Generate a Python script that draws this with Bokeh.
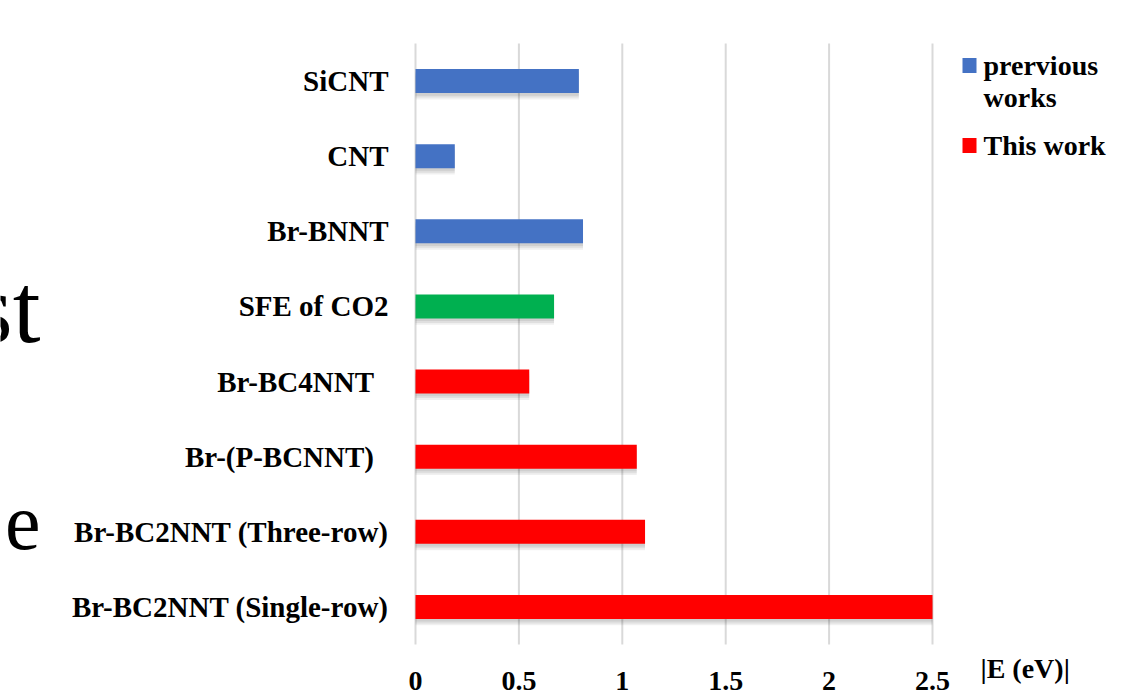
from bokeh.plotting import figure
from bokeh.models import ColumnDataSource, Range1d
from bokeh.core.properties import value
from bokeh.transform import dodge
from bokeh.embed import file_html
from bokeh.resources import INLINE

# Adsorption energies |E| (eV), listed top to bottom
materials = ["SiCNT", "CNT", "Br-BNNT", "SFE of CO2",
             "Br-BC4NNT\u00a0\u00a0", "Br-(P-BCNNT)\u00a0\u00a0",
             "Br-BC2NNT (Three-row)", "Br-BC2NNT (Single-row)"]
energies = [0.79, 0.19, 0.81, 0.67, 0.55, 1.07, 1.11, 2.50]
groups = ["previous", "previous", "previous", "sfe",
          "this", "this", "this", "this"]
x_ticks = [0, 0.5, 1, 1.5, 2, 2.5]
x_tick_labels = ["0", "0.5", "1", "1.5", "2", "2.5"]
axis_title = "|E (eV)|"
legend_lines = [("prervious", "previous"), ("works", None), ("This work", "this")]

colors = {"previous": "#4472C4", "sfe": "#00B050", "this": "#FF0000"}
FONT = value("Liberation Serif")

# canvas geometry: value axis 0..2.5 spans pixels 415..932,
# eight category rows of equal height between y=43 and y=644
W, H = 1130, 695
left_px, right_px, top_px, bottom_px = 415, 932, 43, 644
xmax = x_ticks[-1]
ppu = (right_px - left_px) / xmax
n = len(materials)
row = (bottom_px - top_px) / n

p = figure(width=W, height=H, output_backend="svg", toolbar_location=None,
           x_range=Range1d(-left_px / ppu, (W - left_px) / ppu),
           y_range=Range1d(-(H - bottom_px) / row, bottom_px / row),
           min_border=0)
p.axis.visible = False
p.grid.visible = False
p.outline_line_color = None
p.background_fill_color = "white"
p.border_fill_color = "white"

ypos = [n - i - 0.5 for i in range(n)]   # row centres, top row first

# vertical gridlines across the plotting area
p.segment(x0=x_ticks, y0=[0] * len(x_ticks), x1=x_ticks, y1=[n] * len(x_ticks),
          line_color="#d9d9d9", line_width=2)

# soft drop shadow beneath each bar
all_src = ColumnDataSource(dict(y=ypos, val=energies, mat=materials))
for off, a in [(-0.035, 0.07), (-0.06, 0.07), (-0.085, 0.06)]:
    p.hbar(y=dodge("y", off), right="val", left=0, height=0.32,
           source=all_src, fill_color="black", fill_alpha=a, line_color=None)

for g in ["previous", "sfe", "this"]:
    idx = [i for i, gg in enumerate(groups) if gg == g]
    src = ColumnDataSource(dict(y=[ypos[i] for i in idx],
                                val=[energies[i] for i in idx]))
    p.hbar(y="y", right="val", left=0, height=0.32, source=src,
           fill_color=colors[g], line_color=None)

# category labels
p.text(x=[-27 / ppu] * n, y=ypos, text=materials, text_font=FONT,
       text_font_style="bold", text_font_size="29px", text_color="black",
       text_align="right", text_baseline="middle")

# value-axis tick labels and title
p.text(x=x_ticks, y=[-36 / row] * len(x_ticks), text=x_tick_labels,
       text_font=FONT, text_font_style="bold", text_font_size="28px",
       text_color="black", text_align="center", text_baseline="middle")
p.text(x=[xmax + 48 / ppu], y=[-24 / row], text=[axis_title], text_font=FONT,
       text_font_style="bold", text_font_size="28px", text_color="black",
       text_align="left", text_baseline="middle")

# legend
leg_x = xmax + 37 / ppu
leg_text_x = xmax + 51 / ppu
anchors_px = [65, 97, 145]
for (txt, g), apx in zip(legend_lines, anchors_px):
    p.text(x=[leg_text_x], y=[(bottom_px - apx) / row], text=[txt], text_font=FONT,
           text_font_style="bold", text_font_size="28px", text_color="black",
           text_align="left", text_baseline="alphabetic")
    if g is not None:
        p.rect(x=[leg_x], y=[(bottom_px - apx) / row], width=14, height=15,
               width_units="screen", height_units="screen",
               fill_color=colors[g], line_color=None)

# fragments of slide text at the far left edge
p.text(x=[(40 - left_px) / ppu], y=[(bottom_px - 308) / row], text=["st"],
       text_font=FONT, text_font_size="100px", text_color="black",
       text_align="right", text_baseline="alphabetic")
p.text(x=[(40 - left_px) / ppu], y=[(bottom_px - 522) / row], text=["e"],
       text_font=FONT, text_font_size="80px", text_color="black",
       text_align="right", text_baseline="alphabetic")

open("out.html", "w").write(file_html(p, INLINE))
